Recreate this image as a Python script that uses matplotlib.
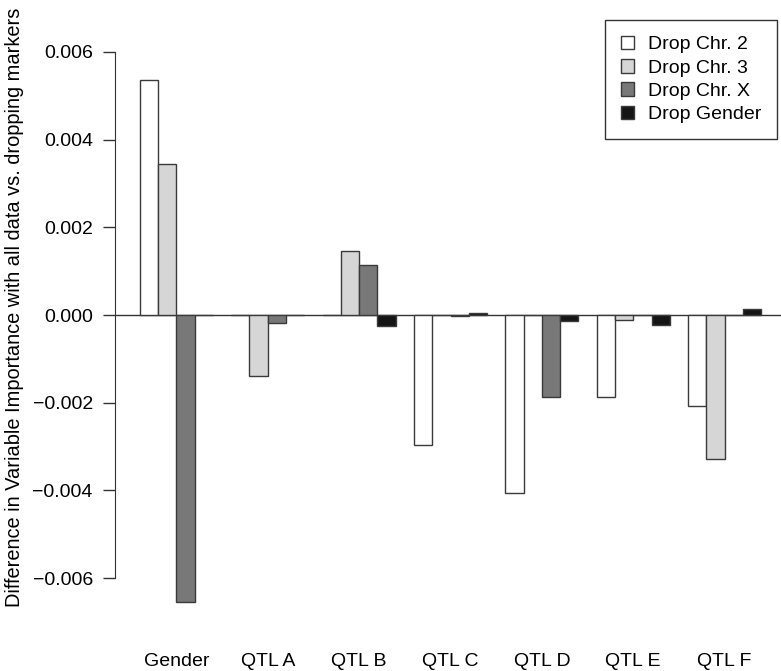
import numpy as np
import matplotlib
matplotlib.use("Agg")
import matplotlib.pyplot as plt

plt.rcParams['font.family'] = ['Liberation Sans', 'DejaVu Sans']

groups = ["Gender", "QTL A", "QTL B", "QTL C", "QTL D", "QTL E", "QTL F"]
series = ["Drop Chr. 2", "Drop Chr. 3", "Drop Chr. X", "Drop Gender"]

drop_chr2 = [0.00535, 0.0, 0.0, -0.00296, -0.00406, -0.00187, -0.00207]
drop_chr3 = [0.00344, -0.00139, 0.00146, 0.0, 0.0, -0.00011, -0.00328]
drop_chrx = [-0.00654, -0.00018, 0.00114, -0.00002, -0.00187, 0.0, 0.0]
drop_gender = [0.0, 0.00001, -0.00025, 0.00004, -0.00014, -0.00023, 0.00014]

colors = ["white", "#d6d6d6", "#787878", "#151515"]
yticks = [-0.006, -0.004, -0.002, 0.0, 0.002, 0.004, 0.006]

fig = plt.figure(figsize=(7.81, 6.71), dpi=100)
# plot region in pixels: x 115..786, y 30..622
ax = fig.add_axes([115/781, (671-622)/671, 671/781, 592/671])

# R style barplot, beside=TRUE: 4 bars of width 1, 1 unit gap between groups
base = np.arange(len(groups)) * 5 + 1
vals = [drop_chr2, drop_chr3, drop_chrx, drop_gender]
for j in range(4):
    ax.bar(base + j, vals[j], width=1, align='edge', color=colors[j],
           edgecolor="#3a3a3a", linewidth=1.0, label=series[j], zorder=2)

ax.axhline(0, color="#333333", linewidth=1.0, zorder=1)

ax.set_xlim(-0.36, 36.36)
ax.set_ylim(-0.007, 0.0065)

for s in ["top", "right", "bottom"]:
    ax.spines[s].set_visible(False)
ax.spines["left"].set_bounds(-0.006, 0.006)
ax.spines["left"].set_color("#333333")

ax.set_yticks(yticks)
ax.set_yticklabels([("%.3f" % v).replace("-", "\u2212") for v in yticks], fontsize=14)
ax.tick_params(axis='y', length=9, width=1, pad=7, color="#333333")

ax.set_xticks(base + 2)
ax.set_xticklabels(groups, fontsize=14)
ax.tick_params(axis='x', length=0, pad=22)

ax.set_ylabel("Difference in Variable Importance with all data vs. dropping markers", fontsize=14.4)
ax.yaxis.set_label_coords(-0.135, 0.532)

leg = ax.legend(loc="upper right", bbox_to_anchor=(0.9866, 1.0169), borderaxespad=0,
                fontsize=14, fancybox=False, edgecolor="#333333", framealpha=1,
                handlelength=0.7, handleheight=0.7, handletextpad=0.7,
                labelspacing=0.3, borderpad=0.8)
leg.get_frame().set_linewidth(1.0)

plt.savefig("out.png", dpi=100)
